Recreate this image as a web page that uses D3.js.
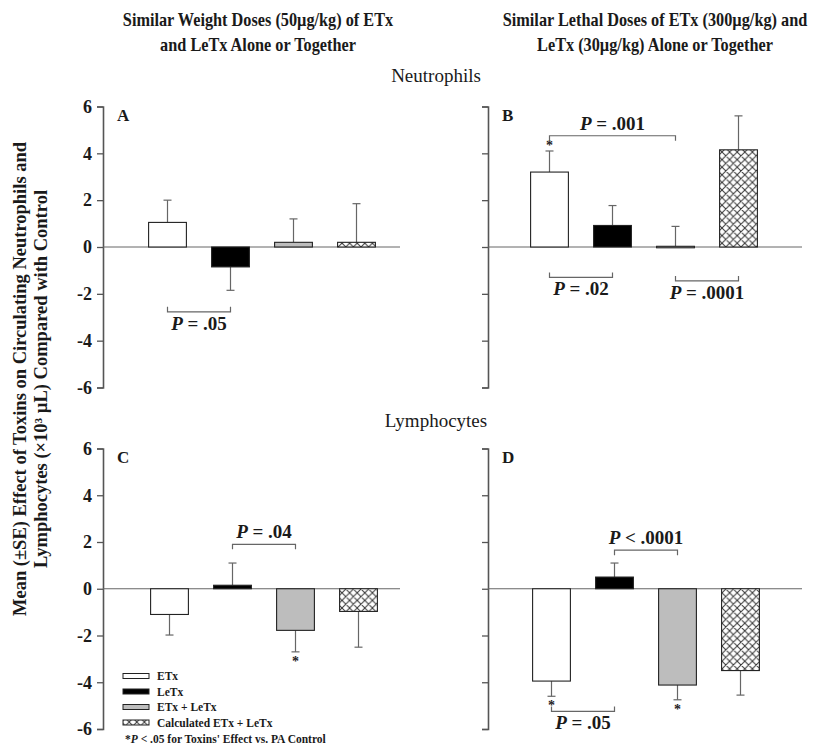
<!DOCTYPE html>
<html><head><meta charset="utf-8">
<script src="https://cdn.jsdelivr.net/npm/d3@7"></script>
<style>
body{margin:0;background:#fff;}
text{font-family:"Liberation Serif","Times New Roman",serif;}
</style></head>
<body><svg id="chart" width="823" height="746"></svg>
<script>
// ---------- data ----------
const categories = ["ETx", "LeTx", "ETx + LeTx", "Calculated ETx + LeTx"];
const yTicks = [-6, -4, -2, 0, 2, 4, 6];

// Neutrophils, similar weight doses (panel A)
const neutWeightMean = [1.05, -0.85, 0.2, 0.2];
const neutWeightSE   = [0.95, 1.0, 1.0, 1.65];
// Neutrophils, similar lethal doses (panel B)
const neutLethalMean = [3.2, 0.92, 0.03, 4.15];
const neutLethalSE   = [0.9, 0.85, 0.85, 1.45];
// Lymphocytes, similar weight doses (panel C)
const lymphWeightMean = [-1.1, 0.15, -1.78, -0.97];
const lymphWeightSE   = [0.88, 0.95, 0.92, 1.53];
// Lymphocytes, similar lethal doses (panel D)
const lymphLethalMean = [-3.95, 0.5, -4.12, -3.5];
const lymphLethalSE   = [0.65, 0.6, 0.63, 1.05];

// significance vs control (stars), per panel, index of category
const starsA = [], starsB = [0], starsC = [2], starsD = [0, 2];

// pairwise comparison brackets: [from, to, level, direction, label]
const bracketsA = [[0, 1, -2.77, "up", "= .05"]];
const bracketsB = [[0, 2, 4.75, "down", "= .001"], [0, 1, -1.3, "up", "= .02"], [2, 3, -1.45, "up", "= .0001"]];
const bracketsC = [[1, 2, 1.9, "down", "= .04"]];
const bracketsD = [[1, 2, 1.65, "down", "< .0001"], [0, 1, -5.25, "up", "= .05"]];

const colTitles = [
  ["Similar Weight Doses (50\u00b5g/kg) of ETx", "and LeTx  Alone or Together"],
  ["Similar Lethal Doses of ETx (300\u00b5g/kg) and", "LeTx (30\u00b5g/kg) Alone or Together"]
];
const rowTitles = ["Neutrophils", "Lymphocytes"];
const yLabel = ["Mean (\u00b1SE) Effect of Toxins on Circulating Neutrophils and",
                "Lymphocytes (\u00d710\u00b3 \u00b5L) Compared with Control"];

// ---------- drawing ----------
const svg = d3.select("#chart");
const fills = ["#ffffff", "#000000", "#bdbdbd", "url(#hatch)"];

const defs = svg.append("defs");
const pat = defs.append("pattern").attr("id", "hatch").attr("patternUnits", "userSpaceOnUse")
  .attr("width", 7.6).attr("height", 7.6);
pat.append("rect").attr("width", 7.6).attr("height", 7.6).attr("fill", "#fff");
pat.append("path").attr("d", "M0,0L7.6,7.6M7.6,0L0,7.6M-1,6.6L1,8.6M6.6,-1L8.6,1M-1,1L1,-1M6.6,8.6L8.6,6.6")
  .attr("stroke", "#333").attr("stroke-width", 1);

const yTop = d3.scaleLinear().domain([-6, 6]).range([387.5, 106.5]);
const yBot = d3.scaleLinear().domain([-6, 6]).range([729, 448.5]);

const panels = [
  {id: "A", y: yTop, axisX: 103, off: 33, end: 400, labels: true, mean: neutWeightMean, se: neutWeightSE, stars: starsA, br: bracketsA},
  {id: "B", y: yTop, axisX: 488, off: 30, end: 802, labels: false, mean: neutLethalMean, se: neutLethalSE, stars: starsB, br: bracketsB},
  {id: "C", y: yBot, axisX: 103, off: 35, end: 400, labels: true, mean: lymphWeightMean, se: lymphWeightSE, stars: starsC, br: bracketsC},
  {id: "D", y: yBot, axisX: 488, off: 32, end: 802, labels: false, mean: lymphLethalMean, se: lymphLethalSE, stars: starsD, br: bracketsD}
];

panels.forEach(p => {
  const g = svg.append("g");
  const y = p.y;
  const x = d3.scaleBand().domain(categories)
    .range([p.axisX + p.off, p.axisX + p.off + 252]).paddingInner(0.4).paddingOuter(0.2);
  const cx = i => x(categories[i]) + x.bandwidth() / 2;

  // axis
  const ax = d3.axisLeft(y).tickValues(yTicks).tickSize(6).tickSizeOuter(6).tickPadding(5)
    .tickFormat(p.labels ? d3.format("d") : () => "");
  const axG = g.append("g").attr("transform", `translate(${p.axisX},0)`).call(ax);
  axG.select(".domain").attr("stroke", "#555").attr("stroke-width", 1.6);
  axG.selectAll(".tick line").attr("stroke", "#555").attr("stroke-width", 1.3);
  axG.selectAll(".tick text").attr("font-family", "Liberation Serif, serif").attr("font-size", 18)
    .attr("font-weight", "bold").attr("fill", "#1a1a1a").text(d => p.labels ? (d < 0 ? "-" + Math.abs(d) : d) : "");

  // zero line
  g.append("line").attr("x1", p.axisX).attr("x2", p.end).attr("y1", y(0)).attr("y2", y(0))
    .attr("stroke", "#666").attr("stroke-width", 1);

  // error bars
  p.mean.forEach((v, i) => {
    const s = v >= 0 ? 1 : -1;
    const yEnd = y(v + s * p.se[i]);
    g.append("line").attr("x1", cx(i)).attr("x2", cx(i)).attr("y1", y(v)).attr("y2", yEnd)
      .attr("stroke", "#666").attr("stroke-width", 1.2);
    g.append("line").attr("x1", cx(i) - 4).attr("x2", cx(i) + 4).attr("y1", yEnd).attr("y2", yEnd)
      .attr("stroke", "#666").attr("stroke-width", 1.2);
  });

  // bars
  g.selectAll("rect.bar").data(p.mean).join("rect").attr("class", "bar")
    .attr("x", (d, i) => x(categories[i]))
    .attr("width", x.bandwidth())
    .attr("y", d => y(Math.max(0, d)))
    .attr("height", d => Math.max(1.5, Math.abs(y(d) - y(0))))
    .attr("fill", (d, i) => fills[i])
    .attr("stroke", "#222").attr("stroke-width", 1.1);

  // stars
  p.stars.forEach(i => {
    const v = p.mean[i], s = v >= 0 ? 1 : -1;
    const yEnd = y(v + s * p.se[i]);
    g.append("text").attr("x", cx(i)).attr("y", s > 0 ? yEnd - 1 : yEnd + 14)
      .attr("text-anchor", "middle").attr("font-size", 14).attr("font-weight", "bold").attr("fill", "#222").text("*");
  });

  // brackets
  p.br.forEach(([a, b, lvl, dir, lab]) => {
    const yy = y(lvl), t = dir === "up" ? -5 : 5;
    g.append("path").attr("d", `M${cx(a)},${yy + t}V${yy}H${cx(b)}V${yy + t}`)
      .attr("fill", "none").attr("stroke", "#666").attr("stroke-width", 1.2);
    const tx = g.append("text").attr("x", (cx(a) + cx(b)) / 2)
      .attr("y", dir === "up" ? yy + 18 : yy - 6)
      .attr("text-anchor", "middle").attr("font-size", 19).attr("font-weight", "bold").attr("fill", "#1a1a1a");
    tx.append("tspan").attr("font-style", "italic").text("P");
    tx.append("tspan").text(" " + lab);
  });

  // panel letter
  g.append("text").attr("x", p.axisX + 14).attr("y", y(6) + 14).attr("font-size", 17)
    .attr("font-weight", "bold").attr("fill", "#1a1a1a").text(p.id);
});

// column titles (condensed bold serif)
const colCx = [258, 655];
colTitles.forEach((lines, c) => {
  lines.forEach((t, k) => {
    svg.append("text").attr("transform", `translate(${colCx[c]},${26 + k * 25}) scale(0.88,1)`)
      .attr("text-anchor", "middle")
      .attr("font-size", 18.5).attr("font-weight", "bold").attr("fill", "#1a1a1a").text(t);
  });
});
// row titles
svg.append("text").attr("x", 436).attr("y", 82).attr("text-anchor", "middle").attr("font-size", 19).attr("fill", "#1a1a1a").text(rowTitles[0]);
svg.append("text").attr("x", 436).attr("y", 427).attr("text-anchor", "middle").attr("font-size", 19).attr("fill", "#1a1a1a").text(rowTitles[1]);

// y label
yLabel.forEach((t, k) => {
  svg.append("text").attr("transform", `translate(${26 + k * 21},379) rotate(-90)`)
    .attr("text-anchor", "middle").attr("font-size", 18.5).attr("font-weight", "bold").attr("fill", "#1a1a1a").text(t);
});

// legend
const lg = svg.append("g");
categories.forEach((c, i) => {
  const yy = 676 + i * 15.5;
  lg.append("rect").attr("x", 123).attr("y", yy - 2.5).attr("width", 26).attr("height", 5)
    .attr("fill", fills[i]).attr("stroke", "#222").attr("stroke-width", 1);
  lg.append("text").attr("x", 157).attr("y", yy + 4).attr("font-size", 11.5).attr("font-weight", "bold")
    .attr("fill", "#1a1a1a").text(c);
});
const fn = lg.append("text").attr("x", 125).attr("y", 743).attr("font-size", 11.5).attr("font-weight", "bold").attr("fill", "#1a1a1a");
fn.append("tspan").text("*");
fn.append("tspan").attr("font-style", "italic").text("P");
fn.append("tspan").text(" < .05 for Toxins' Effect vs. PA Control");
</script></body></html>
